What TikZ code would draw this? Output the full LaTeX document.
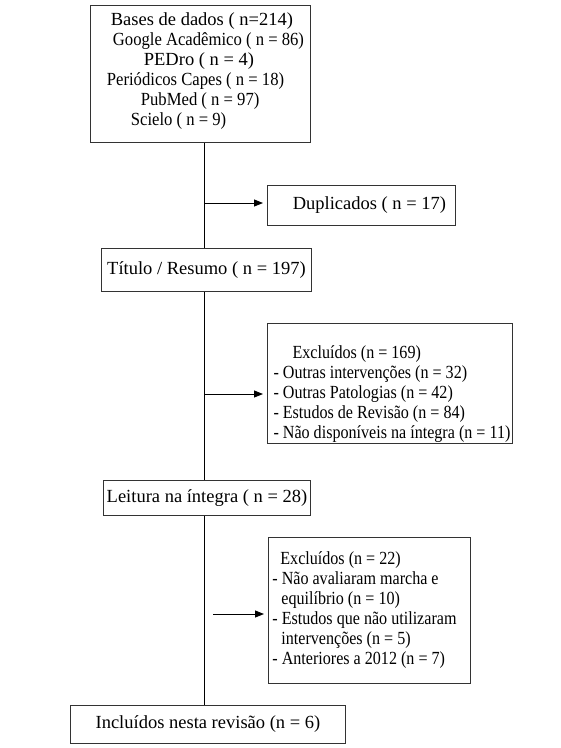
\documentclass[tikz,border=0pt]{standalone}
\usepackage{fontspec}
\usepackage{graphicx}
\setmainfont{Liberation Serif}
\newcommand\sqa[1]{\scalebox{0.9}[1]{#1}}
\newcommand\sqb[1]{\scalebox{0.87}[1]{#1}}
\usetikzlibrary{arrows.meta}
\begin{document}
\begin{tikzpicture}[x=1pt,y=1pt,
  box/.style={draw=black!80, line width=0.9pt, anchor=north west, inner sep=0pt,
    font=\fontsize{18.5}{20}\selectfont},
  arr/.style={-{Triangle[length=9pt,width=7pt]}, line width=0.9pt, shorten >=4pt},
  ln/.style={line width=0.9pt}]
\useasboundingbox (0,0) rectangle (561,-748);

\node[box, minimum width=220, minimum height=137, align=left] (b1) at (90,-5)
  {\hspace*{14pt}Bases de dados ( n=214)\\
   \hspace*{16pt}\sqa{Google Acadêmico ( n = 86)}\\
   \hspace*{47pt}PEDro ( n = 4)\\
   \hspace*{10pt}\sqa{Periódicos Capes ( n = 18)}\\
   \hspace*{44pt}\sqa{PubMed ( n = 97)}\\
   \hspace*{34pt}\sqa{Scielo ( n = 9)}\rule[-10pt]{0pt}{10pt}};

\node[box, minimum width=188, minimum height=40] (dup) at (267,-185)
  {\hspace*{16pt}Duplicados ( n = 17)};

\node[box, minimum width=210, minimum height=43] (tit) at (101,-248)
  {Título / Resumo ( n = 197)};

\node[box, minimum width=245, minimum height=120, align=left] (ex1) at (267,-323)
  {\rule{0pt}{34pt}\hspace*{23pt}\sqb{Excluídos (n = 169)}\\
   \rule{4pt}{0pt}\sqb{- Outras intervenções (n = 32)}\\
   \rule{4pt}{0pt}\sqb{- Outras Patologias (n = 42)}\\
   \rule{4pt}{0pt}\sqb{- Estudos de Revisão (n = 84)}\\
   \rule{4pt}{0pt}\sqb{- Não disponíveis na íntegra (n = 11)}};

\node[box, minimum width=207, minimum height=35] (lei) at (103,-480)
  {Leitura na íntegra ( n = 28)};

\node[box, minimum width=202, minimum height=146, align=left] (ex2) at (268,-537)
  {\hspace*{8pt}\sqb{Excluídos (n = 22)}\\
   \sqb{- Não avaliaram marcha e}\\
   \hspace*{9pt}\sqb{equilíbrio (n = 10)}\\
   \sqb{- Estudos que não utilizaram}\rule{10pt}{0pt}\\
   \hspace*{9pt}\sqb{intervenções (n = 5)}\\
   \sqb{- Anteriores a 2012 (n = 7)}};

\node[box, minimum width=275, minimum height=38] (inc) at (70,-705)
  {Incluídos nesta revisão (n = 6)};

\coordinate (sp) at (204,0);
\coordinate (a3s) at (213,-614);

\draw[ln] (b1.south -| sp) -- (tit.north -| sp);
\draw[arr] (sp |- 0,-203) -- (dup.west |- 0,-203);
\draw[ln] (tit.south -| sp) -- (lei.north -| sp);
\draw[arr] (sp |- 0,-394) -- (ex1.west |- 0,-394);
\draw[ln] (lei.south -| sp) -- (inc.north -| sp);
\draw[arr] (a3s) -- (ex2.west |- a3s);
\end{tikzpicture}
\end{document}
